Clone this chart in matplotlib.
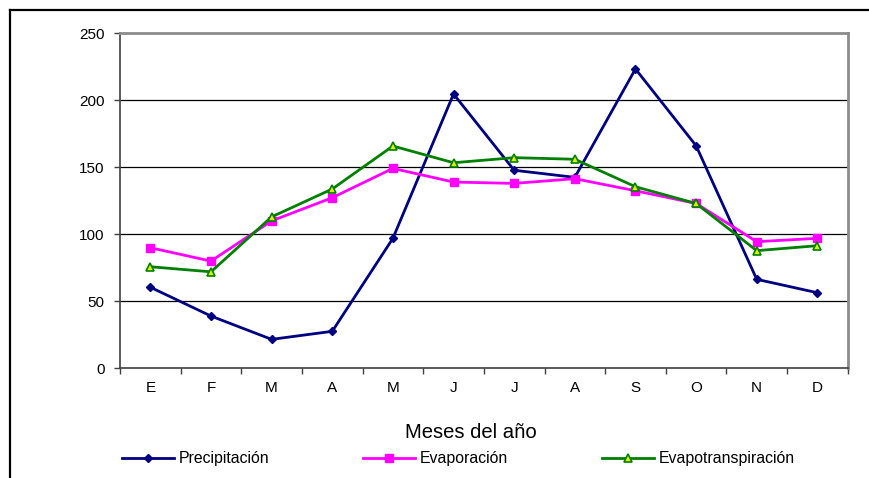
import matplotlib
matplotlib.use('Agg')
import matplotlib.pyplot as plt
import matplotlib.lines as mlines

plt.rcParams['font.family'] = ['Liberation Sans', 'DejaVu Sans']

# Monthly values (mm)
meses = ['E', 'F', 'M', 'A', 'M', 'J', 'J', 'A', 'S', 'O', 'N', 'D']
precipitacion = [60.5, 39, 21.6, 27.6, 97, 204.7, 147.8, 142.5, 223.4, 166.1, 66.4, 56.4]
evaporacion = [90, 80, 110, 127.3, 149.2, 139, 138, 141.5, 132.5, 123, 94.5, 97]
evapotranspiracion = [75.8, 72, 113, 133.8, 165.9, 153.4, 157.2, 156, 135.5, 123, 87.8, 91.5]
yticks = [0, 50, 100, 150, 200, 250]

fig = plt.figure(figsize=(8.69, 4.78), dpi=100)
ax = fig.add_axes([0.1381, 0.2295, 0.9755 - 0.1381, 0.9303 - 0.2295])

x = range(len(meses))
ax.plot(x, precipitacion, color='#000080', lw=2, marker='D', ms=4,
        mfc='#000080', mec='#000080', label='Precipitación', zorder=3)
ax.plot(x, evaporacion, color='#FF00FF', lw=2, marker='s', ms=6,
        mfc='#FF00FF', mec='#FF00FF', label='Evaporación', zorder=3)
ax.plot(x, evapotranspiracion, color='#008000', lw=2, marker='^', ms=5.5,
        mfc='#E0F000', mec='#008000', mew=1.2, label='Evapotranspiración', zorder=3)

ax.set_xlim(-0.5, len(meses) - 0.5)
ax.set_ylim(0, 250)
ax.set_yticks(yticks)
ax.set_yticklabels([str(v) for v in yticks], fontsize=11)
for v in yticks[1:-1]:
    ax.axhline(v, color='black', lw=0.9, zorder=1)

# categories centred between tick marks
ax.set_xticks([i - 0.5 for i in range(len(meses) + 1)])
ax.set_xticklabels([])
ax.set_xticks(list(x), minor=True)
ax.set_xticklabels(meses, minor=True, fontsize=11)
ax.tick_params(axis='x', which='minor', length=0, pad=9)
ax.tick_params(axis='x', which='major', length=4, width=1, color='#404040')
ax.tick_params(axis='y', length=4, width=1, color='#404040', pad=7)

ax.spines['left'].set_color('#404040')
ax.spines['bottom'].set_color('#404040')
ax.spines['left'].set_linewidth(1.2)
ax.spines['bottom'].set_linewidth(1.2)
ax.spines['top'].set_color('#8c8c8c')
ax.spines['right'].set_color('#8c8c8c')
ax.spines['top'].set_linewidth(2)
ax.spines['right'].set_linewidth(2)

fig.text(471 / 869, 1 - 432 / 478, 'Meses del año', fontsize=14.6, ha='center', va='center')

fig.legend(loc='center left', bbox_to_anchor=(122 / 869, 1 - 459 / 478), ncol=3,
           frameon=False, fontsize=11.4, handlelength=3.3, handletextpad=0.3,
           columnspacing=5.9, borderaxespad=0, borderpad=0)

# outer frame, left and top edges
fig.add_artist(mlines.Line2D([10 / 869, 10 / 869], [0, 1 - 10 / 478],
                             transform=fig.transFigure, color='black', lw=1.6))
fig.add_artist(mlines.Line2D([10 / 869, 1], [1 - 10 / 478, 1 - 10 / 478],
                             transform=fig.transFigure, color='black', lw=1.6))

fig.savefig('out.png', dpi=100)
